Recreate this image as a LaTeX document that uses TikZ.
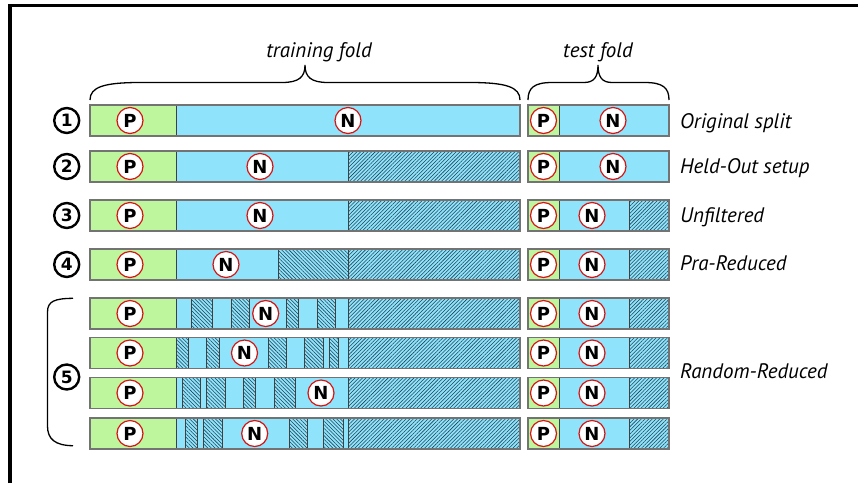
\documentclass[tikz,border=0pt]{standalone}
\usepackage{fontspec}
\setmainfont{DejaVu Sans}
\newfontfamily\labfont{PT Sans}
\usetikzlibrary{patterns.meta}
\definecolor{pgreen}{RGB}{190,246,158}
\definecolor{nblue}{RGB}{143,227,250}
\definecolor{hatchc}{RGB}{30,65,85}
\definecolor{bord}{RGB}{115,115,115}
\definecolor{ring}{RGB}{215,20,20}
\tikzset{
  barline/.style={draw=bord, line width=1.3pt},
  sepline/.style={draw=black!75, line width=0.7pt},
  hne/.style={pattern={Lines[angle=45,distance=2.6pt,line width=0.55pt]}, pattern color=hatchc},
  hnw/.style={pattern={Lines[angle=-45,distance=2.6pt,line width=0.55pt]}, pattern color=hatchc},
  pc/.style={circle, draw=ring, fill=white, line width=1.2pt, minimum size=26pt, inner sep=0pt,
    font=\bfseries\fontsize{18}{18}\selectfont},
  numc/.style={circle, draw=black, line width=2.4pt, minimum size=25pt, inner sep=0pt,
    font=\bfseries\fontsize{17}{17}\selectfont},
  lab/.style={anchor=base west, inner sep=0pt, font=\labfont\itshape\fontsize{21}{21}\selectfont},
  ttl/.style={anchor=base, inner sep=0pt, font=\labfont\itshape\fontsize{21}{21}\selectfont},
  brace/.style={draw=black, line width=1.3pt}
}
% #1 = top y of the row
\newcommand\trainbase[1]{%
  \fill[nblue] (90,#1) rectangle (520,#1+31);
  \fill[pgreen] (90,#1) rectangle (176,#1+31);}
\newcommand\trainend[1]{%
  \draw[sepline] (176,#1) -- (176,#1+31);
  \draw[barline] (90,#1) rectangle (520,#1+31);}
\newcommand\tailhatch[1]{%
  \path[hne, sepline] (348,#1) rectangle (520,#1+31);}
\newcommand\testbar[2]{% #1 top y, #2 = 1 if hatched tail
  \fill[nblue] (528,#1) rectangle (669,#1+31);
  \fill[pgreen] (528,#1) rectangle (559,#1+31);
  \ifnum#2=1 \path[hne, sepline] (629,#1) rectangle (669,#1+31);\fi
  \draw[sepline] (559,#1) -- (559,#1+31);
  \draw[barline] (528,#1) rectangle (669,#1+31);}
\newcommand\nwseg[3]{\path[hnw, sepline] (#1,#3) rectangle (#2,#3+31);}
\begin{document}
\begin{tikzpicture}[x=1pt,y=-1pt]
\useasboundingbox (0,0) rectangle (858,483);
% frame
\draw[line width=3.5pt] (10,483) -- (10,5.3) -- (858,5.3);
% braces
\draw[brace] (90,100) .. controls (90,87) and (104,82.5) .. (140,82.5) -- (282,82.5)
  .. controls (299,82.5) and (305,77) .. (305,65)
  .. controls (305,77) and (311,82.5) .. (328,82.5) -- (470,82.5)
  .. controls (506,82.5) and (520,87) .. (520,100);
\draw[brace] (528,100) .. controls (528,88) and (534,82.5) .. (552,82.5) -- (584,82.5)
  .. controls (594,82.5) and (598,77) .. (598,65)
  .. controls (598,77) and (602,82.5) .. (612,82.5) -- (645,82.5)
  .. controls (663,82.5) and (669,88) .. (669,100);
\draw[brace] (73,298.3) .. controls (55,298.5) and (47.5,301) .. (47.5,312) -- (47.5,426)
  .. controls (47.5,439) and (55,445.5) .. (73,445.7);
\node[ttl] (tr) at (319,57) {training fold};
\node[ttl] (te) at (598,57) {test fold};
% row 1
\trainbase{105}\trainend{105}\testbar{105}{0}
% row 2
\trainbase{151}\tailhatch{151}\trainend{151}\testbar{151}{0}
% row 3
\trainbase{200}\tailhatch{200}\trainend{200}\testbar{200}{1}
% row 4
\trainbase{249}\nwseg{278}{348}{249}\tailhatch{249}\trainend{249}\testbar{249}{1}
% row 5a
\trainbase{298}\nwseg{191.7}{212.7}{298}\nwseg{231.7}{249.3}{298}\nwseg{286}{298}{298}\nwseg{317.7}{335.7}{298}
\tailhatch{298}\trainend{298}\testbar{298}{1}
% row 5b
\trainbase{337.5}\nwseg{176.7}{188.3}{337.5}\nwseg{206.3}{219.3}{337.5}\nwseg{268.5}{286}{337.5}\nwseg{304.5}{323.3}{337.5}\nwseg{329.3}{338.5}{337.5}
\tailhatch{337.5}\trainend{337.5}\testbar{337.5}{1}
% row 5c
\trainbase{377.5}\nwseg{182.7}{200.7}{377.5}\nwseg{206.7}{225.7}{377.5}\nwseg{243.3}{255.7}{377.5}\nwseg{274.3}{295.7}{377.5}
\tailhatch{377.5}\trainend{377.5}\testbar{377.5}{1}
% row 5d
\trainbase{418}\nwseg{185}{197.3}{418}\nwseg{203.7}{222.3}{418}\nwseg{289.3}{307.7}{418}\nwseg{323.3}{343.7}{418}
\tailhatch{418}\trainend{418}\testbar{418}{1}
% P / N circles
\node[pc] (p1) at (130,120.5) {P}; \node[pc] (n1) at (348,120.5) {N};
\node[pc] (tp1) at (543.5,120.5) {P}; \node[pc] (tn1) at (613,120.5) {N};
\node[pc] (p2) at (130,166.5) {P}; \node[pc] (n2) at (260,166.5) {N};
\node[pc] (tp2) at (543.5,166.5) {P}; \node[pc] (tn2) at (613,166.5) {N};
\node[pc] (p3) at (130,215.5) {P}; \node[pc] (n3) at (260,215.5) {N};
\node[pc] (tp3) at (543.5,215.5) {P}; \node[pc] (tn3) at (592,215.5) {N};
\node[pc] (p4) at (130,264.5) {P}; \node[pc] (n4) at (226,264.5) {N};
\node[pc] (tp4) at (543.5,264.5) {P}; \node[pc] (tn4) at (592,264.5) {N};
\node[pc] (p5a) at (130,313.5) {P}; \node[pc] (n5a) at (265.7,313.5) {N};
\node[pc] (tp5a) at (543.5,313.5) {P}; \node[pc] (tn5a) at (592,313.5) {N};
\node[pc] (p5b) at (130,353) {P}; \node[pc] (n5b) at (244.5,353) {N};
\node[pc] (tp5b) at (543.5,353) {P}; \node[pc] (tn5b) at (592,353) {N};
\node[pc] (p5c) at (130,393) {P}; \node[pc] (n5c) at (321,393) {N};
\node[pc] (tp5c) at (543.5,393) {P}; \node[pc] (tn5c) at (592,393) {N};
\node[pc] (p5d) at (130,433.5) {P}; \node[pc] (n5d) at (254.7,433.5) {N};
\node[pc] (tp5d) at (543.5,433.5) {P}; \node[pc] (tn5d) at (592,433.5) {N};
% numbers
\node[numc] (c1) at (66.7,120.5) {1};
\node[numc] (c2) at (66.7,166.5) {2};
\node[numc] (c3) at (66.7,215.5) {3};
\node[numc] (c4) at (66.7,264.5) {4};
\node[numc] (c5) at (66.7,377) {5};
% labels
\node[lab] (l1) at (680,128) {Original split};
\node[lab] (l2) at (680,173.5) {Held-Out setup};
\node[lab] (l3) at (680,222.3) {Unfiltered};
\node[lab] (l4) at (680,270.7) {Pra-Reduced};
\node[lab] (l5) at (680,378.3) {Random-Reduced};
\end{tikzpicture}
\end{document}
